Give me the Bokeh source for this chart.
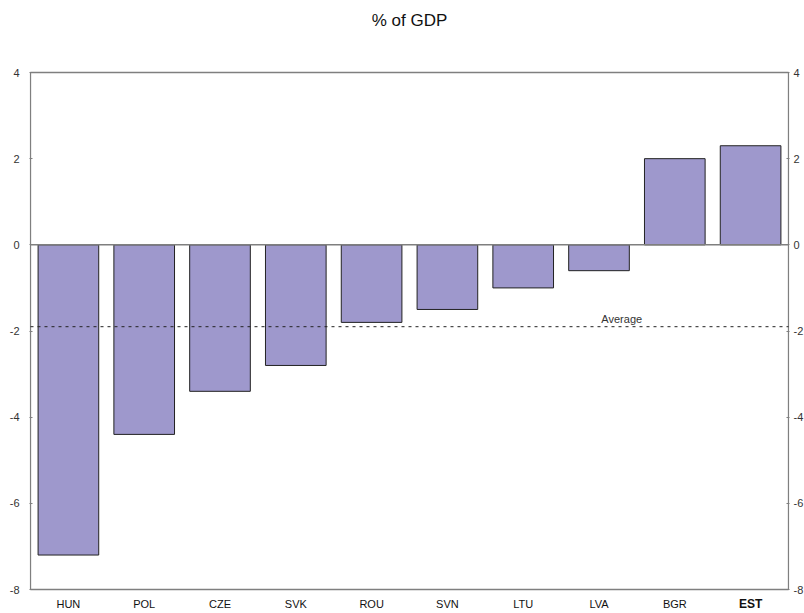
from bokeh.plotting import figure
from bokeh.models import Range1d, FixedTicker, ColumnDataSource, LinearAxis
from bokeh.core.properties import value
from bokeh.embed import file_html
from bokeh.resources import INLINE

countries = ["HUN", "POL", "CZE", "SVK", "ROU", "SVN", "LTU", "LVA", "BGR", "EST"]
values = [-7.2, -4.4, -3.4, -2.8, -1.8, -1.5, -1.0, -0.6, 2.0, 2.3]
average = -1.9
y_ticks = [-8, -6, -4, -2, 0, 2, 4]
y_tick_labels = ["-8", "-6", "-4", "-2", "0", "2", "4"]
y_min, y_max = -8, 4
title_text = "% of GDP"
avg_text = "Average"
bold_country = "EST"

FONT = "Liberation Sans"
GRAY = "#7f7f7f"

# ---- layout (pixels) ----
W, H = 804, 613
LEFT, RIGHT = 29, 15
FRAME_W = W - LEFT - RIGHT
PLOT_TOP, PLOT_BOTTOM = 72, 589
px_per_y = (PLOT_BOTTOM - PLOT_TOP) / (y_max - y_min)
n = len(countries)
px_per_x = (FRAME_W - 2) / n
xpad = 1 / px_per_x
y_end = y_max + PLOT_TOP / px_per_y
y_start = y_min - (H - PLOT_BOTTOM) / px_per_y

xs = [i + 0.5 for i in range(n)]
styles = ["bold" if c == bold_country else "normal" for c in countries]
sizes = ["12px" if c == bold_country else "11px" for c in countries]
bars = ColumnDataSource(dict(x=xs, top=values, label=countries, style=styles, size=sizes))

p = figure(x_range=Range1d(-xpad, n + xpad), y_range=Range1d(y_start, y_end),
           frame_width=FRAME_W, frame_height=H,
           output_backend="svg", toolbar_location=None,
           x_axis_location=None, y_axis_location="left",
           min_border=0, min_border_left=LEFT, min_border_right=RIGHT)

p.xgrid.visible = False
p.ygrid.visible = False
p.outline_line_color = None

p.vbar(x="x", top="top", bottom=0, width=0.8, source=bars,
       fill_color="#9e98cc", line_color="#222222", line_width=1)

p.quad(left=[0], right=[n], bottom=[y_min], top=[y_max],
       fill_color=None, line_color=GRAY, line_width=1.3)

p.segment(x0=[0], x1=[n], y0=[0], y1=[0], line_color=GRAY, line_width=1.5)
p.segment(x0=[0], x1=[n], y0=[average], y1=[average], line_color="#222222",
          line_width=1, line_dash="3 4")
p.text(x=[7.8], y=[average], text=[avg_text], text_align="center",
       text_baseline="bottom", y_offset=-2, text_font=value(FONT),
       text_font_size="11px", text_color="#333333")

p.text(x="x", y=y_min, text="label", source=bars, text_align="center",
       text_baseline="middle", y_offset=14, text_font=value(FONT),
       text_font_size="size", text_font_style="style", text_color="#111111")

p.text(x=[n / 2], y=[y_max], text=[title_text], text_align="center",
       text_baseline="middle", y_offset=-(PLOT_TOP - 20), text_font=value(FONT),
       text_font_size="17px", text_color="#111111")

overrides = {t: lab for t, lab in zip(y_ticks, y_tick_labels)}

ya = p.yaxis[0]
ya.ticker = FixedTicker(ticks=y_ticks)
ya.major_label_overrides = overrides
ya.axis_line_color = None
ya.major_tick_line_color = GRAY
ya.major_tick_in = 3
ya.major_tick_out = 0
ya.minor_tick_line_color = None
ya.major_label_standoff = 10
ya.major_label_text_font = FONT
ya.major_label_text_font_size = "11px"
ya.major_label_text_color = "#333333"

ra = LinearAxis(ticker=FixedTicker(ticks=y_ticks))
ra.major_label_overrides = overrides
ra.axis_line_color = None
ra.major_tick_line_color = GRAY
ra.major_tick_in = 3
ra.major_tick_out = 0
ra.minor_tick_line_color = None
ra.major_label_standoff = 4
ra.major_label_text_font = FONT
ra.major_label_text_font_size = "11px"
ra.major_label_text_color = "#333333"
p.add_layout(ra, "right")

open("out.html", "w").write(file_html(p, INLINE))
